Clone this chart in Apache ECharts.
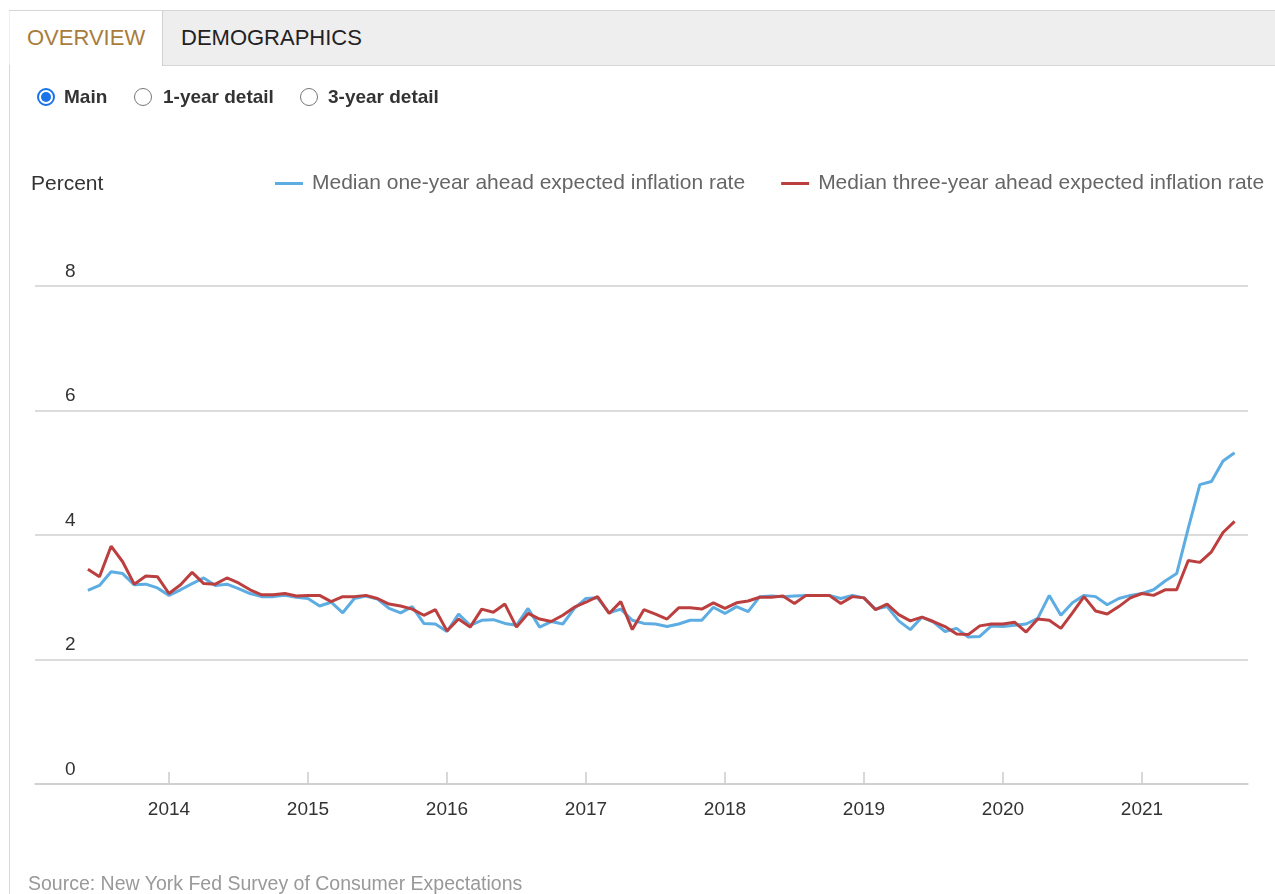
<!DOCTYPE html>
<html>
<head>
<meta charset="utf-8">
<script src="https://cdn.jsdelivr.net/npm/echarts@6/dist/echarts.min.js"></script>
<style>
  html, body { margin:0; padding:0; background:#fff; width:1275px; height:894px; overflow:hidden;
    font-family:'Liberation Sans', Arial, Helvetica, sans-serif; }
  #chart { position:absolute; left:0; top:0; width:1275px; height:894px; z-index:0; }
  .ov { position:absolute; z-index:2; }
  #frameLeft { left:9px; top:10px; width:1px; height:884px; background:#d8d8d8; }
  #tabbar { left:9px; top:10px; width:1266px; height:54px; background:#eeeeee;
    border-top:1px solid #d6d6d6; border-bottom:1px solid #d6d6d6; }
  #tabOver { left:10px; top:11px; width:152px; height:55px; background:#fff; border-right:1px solid #d0d0d0; }
  .tabtxt { position:absolute; font-size:22px; line-height:26px; top:25px; white-space:nowrap; }
  #t1 { left:27px; color:#a87c3c; }
  #t2 { left:181px; color:#222; }
  .radio { position:absolute; width:18px; height:18px; border-radius:50%; top:88px; box-sizing:border-box; }
  .radio.on { border:2px solid #1a73e8; }
  .radio.on::after { content:''; position:absolute; left:2px; top:2px; width:10px; height:10px; border-radius:50%; background:#1a73e8; }
  .radio.off { border:1px solid #777; }
  .rlab { position:absolute; top:85px; font-size:19px; line-height:24px; font-weight:bold; color:#333; white-space:nowrap; }
  #source { left:28px; top:871px; font-size:19.5px; line-height:24px; color:#999; white-space:nowrap; }
</style>
</head>
<body>
<div id="chart"></div>
<div class="ov" id="frameLeft"></div>
<div class="ov" id="tabbar"></div>
<div class="ov" id="tabOver"></div>
<div class="ov tabtxt" id="t1">OVERVIEW</div>
<div class="ov tabtxt" id="t2">DEMOGRAPHICS</div>
<div class="ov radio on" style="left:37px;"></div>
<div class="ov rlab" style="left:64px;">Main</div>
<div class="ov radio off" style="left:134px;"></div>
<div class="ov rlab" style="left:163px;">1-year detail</div>
<div class="ov radio off" style="left:300px;"></div>
<div class="ov rlab" style="left:328px;">3-year detail</div>
<div class="ov" id="source">Source: New York Fed Survey of Consumer Expectations</div>
<script>
// Months (June 2013 - September 2021)
const months = [
 '2013-06','2013-07','2013-08','2013-09','2013-10','2013-11','2013-12',
 '2014-01','2014-02','2014-03','2014-04','2014-05','2014-06','2014-07','2014-08','2014-09','2014-10','2014-11','2014-12',
 '2015-01','2015-02','2015-03','2015-04','2015-05','2015-06','2015-07','2015-08','2015-09','2015-10','2015-11','2015-12',
 '2016-01','2016-02','2016-03','2016-04','2016-05','2016-06','2016-07','2016-08','2016-09','2016-10','2016-11','2016-12',
 '2017-01','2017-02','2017-03','2017-04','2017-05','2017-06','2017-07','2017-08','2017-09','2017-10','2017-11','2017-12',
 '2018-01','2018-02','2018-03','2018-04','2018-05','2018-06','2018-07','2018-08','2018-09','2018-10','2018-11','2018-12',
 '2019-01','2019-02','2019-03','2019-04','2019-05','2019-06','2019-07','2019-08','2019-09','2019-10','2019-11','2019-12',
 '2020-01','2020-02','2020-03','2020-04','2020-05','2020-06','2020-07','2020-08','2020-09','2020-10','2020-11','2020-12',
 '2021-01','2021-02','2021-03','2021-04','2021-05','2021-06','2021-07','2021-08','2021-09'
];
const oneYear = [
 3.11,3.19,3.41,3.38,3.20,3.21,3.15,
 3.03,3.12,3.22,3.31,3.19,3.21,3.14,3.06,3.01,3.01,3.03,3.00,
 2.98,2.86,2.92,2.75,2.98,3.02,2.97,2.82,2.75,2.85,2.58,2.57,
 2.45,2.73,2.55,2.63,2.64,2.58,2.55,2.82,2.52,2.61,2.57,2.82,
 2.98,2.99,2.75,2.81,2.63,2.58,2.57,2.53,2.57,2.63,2.63,2.84,
 2.74,2.85,2.77,3.01,3.02,3.01,3.02,3.03,3.03,3.03,2.98,3.03,
 2.99,2.81,2.85,2.62,2.48,2.68,2.60,2.45,2.50,2.36,2.37,2.54,
 2.53,2.55,2.57,2.66,3.03,2.71,2.91,3.03,3.01,2.88,2.98,3.03,
 3.06,3.12,3.26,3.38,4.11,4.81,4.86,5.19,5.32
];
const threeYear = [
 3.45,3.33,3.82,3.57,3.21,3.34,3.33,
 3.06,3.20,3.40,3.22,3.21,3.31,3.23,3.12,3.04,3.04,3.06,3.02,
 3.03,3.03,2.93,3.01,3.01,3.03,2.98,2.89,2.86,2.81,2.71,2.80,
 2.46,2.65,2.52,2.81,2.76,2.89,2.52,2.74,2.65,2.61,2.71,2.84,
 2.92,3.01,2.74,2.93,2.48,2.80,2.73,2.65,2.83,2.83,2.81,2.91,
 2.82,2.91,2.94,3.00,3.00,3.02,2.90,3.03,3.03,3.03,2.90,3.01,
 2.99,2.80,2.89,2.72,2.62,2.68,2.61,2.53,2.41,2.40,2.54,2.57,
 2.57,2.60,2.44,2.65,2.63,2.50,2.75,3.01,2.78,2.73,2.85,2.99,
 3.06,3.03,3.12,3.12,3.59,3.56,3.73,4.04,4.22
];
const tickYears = [2014, 2015, 2016, 2017, 2018, 2019, 2020, 2021];
const seriesNames = ['Median one-year ahead expected inflation rate', 'Median three-year ahead expected inflation rate'];

function toX(s) { const p = s.split('-'); return Number(p[0]) + (Number(p[1]) - 1) / 12; }
const xs = months.map(toX);
const pairs = arr => arr.map((v, i) => [xs[i], v]);

const chart = echarts.init(document.getElementById('chart'), null, { renderer: 'canvas' });
const FONT = "'Liberation Sans', Arial, Helvetica, sans-serif";
chart.setOption({
  animation: false,
  backgroundColor: 'transparent',
  textStyle: { fontFamily: FONT },
  grid: { left: 35, right: 27, top: 286, bottom: 110, containLabel: false },
  graphic: [{
    type: 'text', left: 31, top: 174,
    style: { text: 'Percent', fontSize: 21, fill: '#333', fontFamily: FONT }
  }],
  legend: {
    left: 275, top: 173, padding: 0, itemGap: 36, itemWidth: 28, itemHeight: 3, icon: 'rect',
    textStyle: { fontSize: 21, color: '#666', fontFamily: FONT, padding: [0, 0, 0, 4] },
    data: seriesNames
  },
  xAxis: {
    type: 'value', min: 2013.036, max: 2021.763,
    splitLine: { show: false },
    axisLine: { show: true, lineStyle: { color: '#cccccc', width: 1.5 } },
    axisTick: { show: true, inside: true, length: 12, customValues: tickYears, lineStyle: { color: '#cccccc', width: 1.5 } },
    axisLabel: { customValues: tickYears, formatter: v => String(Math.round(v)), fontSize: 19, color: '#333', margin: 16, fontFamily: FONT }
  },
  yAxis: {
    type: 'value', min: 0, max: 8, interval: 2,
    axisLine: { show: false }, axisTick: { show: false },
    splitLine: { lineStyle: { color: '#d0d0d0', width: 1.5 } },
    axisLabel: { inside: true, margin: 30, verticalAlign: 'bottom', padding: [0, 0, 5, 0], fontSize: 19, color: '#333', fontFamily: FONT }
  },
  series: [
    { name: seriesNames[0], type: 'line', data: pairs(oneYear), showSymbol: false, symbol: 'none',
      lineStyle: { width: 3, color: '#5dade2' }, itemStyle: { color: '#5dade2' } },
    { name: seriesNames[1], type: 'line', data: pairs(threeYear), showSymbol: false, symbol: 'none',
      lineStyle: { width: 3, color: '#bc3f3f' }, itemStyle: { color: '#bc3f3f' } }
  ]
});
</script>
</body>
</html>
